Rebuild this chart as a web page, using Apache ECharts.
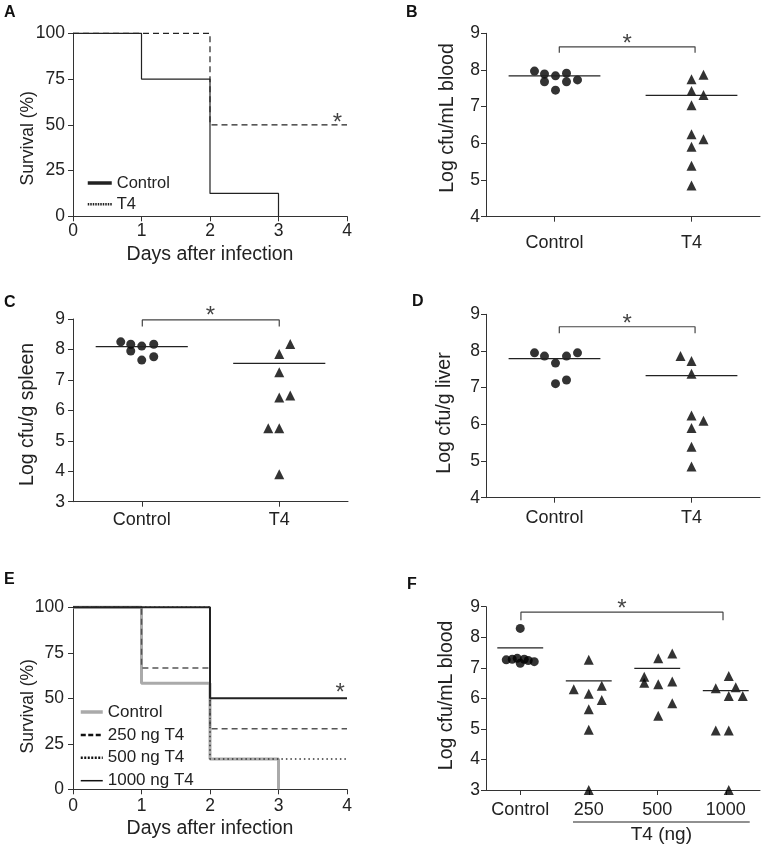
<!DOCTYPE html>
<html><head><meta charset="utf-8">
<script src="https://cdn.jsdelivr.net/npm/echarts@6/dist/echarts.min.js"></script>
<style>html,body{margin:0;padding:0;background:#fff}#c{width:765px;height:852px}</style>
</head><body><div id="c"></div>
<script>
const FONT = '"Liberation Sans", Arial, Helvetica, sans-serif';
const TXT = '#222';
const AX = '#333';

// ---------- Panel A: survival ----------
const daysA = [0, 1, 2, 3, 4];
const survA_control = [100, 75, 12.5, 0, null];
const survA_T4 = [100, 100, 50, 50, 50];

// ---------- Panels B, C, D: two groups ----------
const groupsBCD = ['Control', 'T4'];
const B_control = [7.97, 7.89, 7.68, 7.84, 7.45, 7.91, 7.68, 7.73];
const B_T4 = [7.75, 7.87, 7.43, 7.32, 7.04, 6.25, 6.11, 5.91, 5.39, 4.85];
const B_means = [7.84, 7.31];
const C_control = [8.25, 8.17, 7.95, 8.11, 8.17, 7.65, 7.76];
const C_T4 = [8.18, 7.85, 7.25, 6.49, 6.42, 5.41, 5.41, 3.90];
const C_means = [8.09, 7.54];
const D_control = [7.95, 7.86, 7.67, 7.86, 7.95, 7.11, 7.21];
const D_T4 = [7.86, 7.73, 7.38, 6.24, 6.10, 5.90, 5.39, 4.85];
const D_means = [7.79, 7.33];

// ---------- Panel E: survival by dose ----------
const daysE = [0, 1, 2, 3, 4];
const survE_control = [100, 58.3, 16.7, 0, null];
const survE_250 = [100, 66.7, 33.3, 33.3, 33.3];
const survE_500 = [100, 100, 16.7, 16.7, 16.7];
const survE_1000 = [100, 100, 50, 50, 50];

// ---------- Panel F: blood by dose ----------
const groupsF = ['Control', '250', '500', '1000'];
const F_control = [8.29, 7.26, 7.28, 7.31, 7.15, 7.28, 7.24, 7.20];
const F_250 = [7.26, 6.30, 6.15, 6.41, 5.95, 5.64, 4.97, 3.00];
const F_500 = [7.31, 7.47, 6.71, 6.51, 6.46, 6.55, 5.84, 5.43];
const F_1000 = [6.73, 6.33, 6.36, 6.08, 6.08, 4.95, 4.95, 3.00];
const F_means = [7.65, 6.57, 6.98, 6.25];

// ---------- layout-only: horizontal scatter offsets in px (beeswarm look) ----------
const jB_c = [-20, -10, -10, 1, 1, 12, 12, 23];
const jB_t = [0, 12, 0, 12, 0, 0, 12, 0, 0, 0];
const jC_c = [-21, -11, -11, 0, 12, 0, 12];
const jC_t = [11, 0, 0, 11, 0, -11, 0, 0];
const jD_c = [-20, -10, 1, 12, 23, 1, 12];
const jD_t = [-11, 0, 0, 0, 12, 0, 0, 0];
const jF_c = [0, -14, -8, -3, 0, 4, 8, 14];
const jF_250 = [0, -15, 0, 13, 13, 0, 0, 0];
const jF_500 = [1, 15, -13, -13, 1, 15, 15, 1];
const jF_1000 = [3, -10, 10, 3, 17, -10, 3, 3];

const grids = [
  {left: 73, top: 33.3, width: 274, height: 183},     // A
  {left: 486, top: 33.3, width: 274, height: 183.4},  // B
  {left: 73, top: 319, width: 275, height: 182.7},    // C
  {left: 486, top: 314.3, width: 274, height: 183.4}, // D
  {left: 73, top: 607.3, width: 274, height: 182},    // E
  {left: 486, top: 606.7, width: 274, height: 183.3}  // F
];

const lineSt = {color: AX, width: 1};
function axisBase(extra) {
  return Object.assign({
    axisLine: {show: true, lineStyle: lineSt},
    axisTick: {show: true, inside: false, length: 5, lineStyle: lineSt},
    splitLine: {show: false},
    nameMoveOverlap: false,
    nameTextStyle: {color: TXT, fontFamily: FONT, fontSize: 19.5},
  }, extra);
}
function lbl(margin, size) {
  return {color: TXT, fontFamily: FONT, fontSize: size || 17.5, margin: margin, interval: 0};
}
function yname(size, padding) {
  return {color: TXT, fontFamily: FONT, fontSize: size, padding: padding};
}

const catTick = {show: true, alignWithLabel: true, length: 5, lineStyle: lineSt};
const xAxes = [
  // 0: A
  axisBase({gridIndex: 0, type: 'value', min: 0, max: 4, interval: 1, axisLabel: lbl(6),
    name: 'Days after infection', nameLocation: 'middle', nameGap: 28}),
  // 1: B category, 2: B hidden value
  axisBase({gridIndex: 1, type: 'category', data: groupsBCD, boundaryGap: true,
    axisTick: catTick, axisLabel: lbl(17, 18)}),
  {gridIndex: 1, type: 'value', min: 0, max: 2, show: false},
  // 3: C category, 4: C hidden
  axisBase({gridIndex: 2, type: 'category', data: groupsBCD, boundaryGap: true,
    axisTick: catTick, axisLabel: lbl(9, 18)}),
  {gridIndex: 2, type: 'value', min: 0, max: 2, show: false},
  // 5: D category, 6: D hidden
  axisBase({gridIndex: 3, type: 'category', data: groupsBCD, boundaryGap: true,
    axisTick: catTick, axisLabel: lbl(11, 18)}),
  {gridIndex: 3, type: 'value', min: 0, max: 2, show: false},
  // 7: E
  axisBase({gridIndex: 4, type: 'value', min: 0, max: 4, interval: 1, axisLabel: lbl(8),
    name: 'Days after infection', nameLocation: 'middle', nameGap: 29}),
  // 8: F category, 9: F hidden
  axisBase({gridIndex: 5, type: 'category', data: groupsF, boundaryGap: true,
    axisTick: catTick, axisLabel: lbl(11, 18)}),
  {gridIndex: 5, type: 'value', min: 0, max: 4, show: false}
];

const yAxes = [
  axisBase({gridIndex: 0, type: 'value', min: 0, max: 100, interval: 25, axisLabel: lbl(8),
    name: 'Survival (%)', nameLocation: 'middle', nameGap: 36, nameTextStyle: yname(17.5, [0, 27, 0, 0])}),
  axisBase({gridIndex: 1, type: 'value', min: 4, max: 9, interval: 1, axisLabel: lbl(6),
    name: 'Log cfu/mL blood', nameLocation: 'middle', nameGap: 28, nameTextStyle: yname(19.5, [0, 0, 0, 14])}),
  axisBase({gridIndex: 2, type: 'value', min: 3, max: 9, interval: 1, axisLabel: lbl(8),
    name: 'Log cfu/g spleen', nameLocation: 'middle', nameGap: 35, nameTextStyle: yname(19.5, [0, 8, 0, 0])}),
  axisBase({gridIndex: 3, type: 'value', min: 4, max: 9, interval: 1, axisLabel: lbl(6),
    name: 'Log cfu/g liver', nameLocation: 'middle', nameGap: 31, nameTextStyle: yname(19.5, [0, 14, 0, 0])}),
  axisBase({gridIndex: 4, type: 'value', min: 0, max: 100, interval: 25, axisLabel: lbl(9),
    name: 'Survival (%)', nameLocation: 'middle', nameGap: 36, nameTextStyle: yname(17.5, [0, 16, 0, 0])}),
  axisBase({gridIndex: 5, type: 'value', min: 3, max: 9, interval: 1, axisLabel: lbl(6),
    name: 'Log cfu/mL blood', nameLocation: 'middle', nameGap: 29, nameTextStyle: yname(19.5, [0, 0, 0, 6])})
];

const series = [];
function km(name, xi, yi, days, surv, style, z) {
  const data = [];
  days.forEach((d, i) => { if (surv[i] !== null) data.push([d, surv[i]]); });
  series.push({name: name, type: 'line', xAxisIndex: xi, yAxisIndex: yi, step: 'end', data: data,
    symbol: 'none', clip: false, lineStyle: style, itemStyle: {color: style.color}, z: z || 2,
    emphasis: {disabled: true}});
}
function dots(name, xi, yi, cat, values, jit, symbol, size) {
  series.push({name: name, type: 'scatter', xAxisIndex: xi, yAxisIndex: yi, clip: false,
    symbol: symbol, symbolSize: size, itemStyle: {color: '#000'}, z: 3,
    data: values.map((v, i) => ({value: [cat, v], symbolOffset: [jit[i], 0]}))});
}
function means(name, xi, yi, ms) {
  ms.forEach((m, i) => {
    series.push({name: name, type: 'line', xAxisIndex: xi, yAxisIndex: yi, symbol: 'none', z: 4,
      data: [[i + 0.5 - 0.335, m], [i + 0.5 + 0.335, m]], lineStyle: {color: '#222', width: 1.2}});
  });
}
function bracket(name, xi, yi, x1, x2, yTop, yLow) {
  series.push({name: name, type: 'line', xAxisIndex: xi, yAxisIndex: yi, symbol: 'none', clip: false,
    data: [[x1, yLow], [x1, yTop], [x2, yTop], [x2, yLow]], lineStyle: {color: '#444', width: 1.2}});
}
function star(name, xi, yi, x, y) {
  series.push({name: name, type: 'scatter', xAxisIndex: xi, yAxisIndex: yi, clip: false,
    symbolSize: 1, itemStyle: {color: 'rgba(0,0,0,0)'}, data: [[x, y]],
    label: {show: true, position: 'inside', formatter: '*', fontSize: 24, fontFamily: FONT, color: '#111'}});
}

// A
km('Control', 0, 0, daysA, survA_control, {color: '#222', width: 1.2, type: 'solid'});
km('T4', 0, 0, daysA, survA_T4, {color: '#222', width: 1.2, type: [6, 4]});
star('A*', 0, 0, 3.86, 51);

// B
dots('B Control', 1, 1, 'Control', B_control, jB_c, 'circle', 9);
dots('B T4', 1, 1, 'T4', B_T4, jB_t, 'triangle', 10);
means('B mean', 2, 1, B_means);
bracket('B br', 2, 1, 0.535, 1.526, 8.63, 8.47);
star('B*', 2, 1, 1.03, 8.7);

// C
dots('C Control', 3, 2, 'Control', C_control, jC_c, 'circle', 9);
dots('C T4', 3, 2, 'T4', C_T4, jC_t, 'triangle', 10);
means('C mean', 4, 2, C_means);
bracket('C br', 4, 2, 0.504, 1.50, 8.97, 8.75);
star('C*', 4, 2, 1.0, 9.07);

// D
dots('D Control', 5, 3, 'Control', D_control, jD_c, 'circle', 9);
dots('D T4', 5, 3, 'T4', D_T4, jD_t, 'triangle', 10);
means('D mean', 6, 3, D_means);
bracket('D br', 6, 3, 0.535, 1.526, 8.66, 8.48);
star('D*', 6, 3, 1.03, 8.72);

// E
km('Control', 7, 4, daysE, survE_control, {color: '#aaaaaa', width: 3, type: 'solid'}, 1);
km('250 ng T4', 7, 4, daysE, survE_250, {color: '#555', width: 1.5, type: [6, 4]});
km('500 ng T4', 7, 4, daysE, survE_500, {color: '#333', width: 1.5, type: [1.5, 3]});
km('1000 ng T4', 7, 4, daysE, survE_1000, {color: '#222', width: 2, type: 'solid'}, 3);
star('E*', 7, 4, 3.9, 52.5);

// F
dots('F Control', 8, 5, 'Control', F_control, jF_c, 'circle', 9);
dots('F 250', 8, 5, '250', F_250, jF_250, 'triangle', 10);
dots('F 500', 8, 5, '500', F_500, jF_500, 'triangle', 10);
dots('F 1000', 8, 5, '1000', F_1000, jF_1000, 'triangle', 10);
means('F mean', 9, 5, F_means);
bracket('F br', 9, 5, 0.51, 3.46, 8.82, 8.56);
star('F*', 9, 5, 1.985, 8.92);

const legTxt = {color: TXT, fontFamily: FONT, fontSize: 16.5};
const noSym = {color: 'rgba(0,0,0,0)', borderColor: 'rgba(0,0,0,0)', borderWidth: 0};
const option = {
  animation: false,
  backgroundColor: '#fff',
  grid: grids,
  xAxis: xAxes,
  yAxis: yAxes,
  series: series,
  legend: [
    {orient: 'vertical', left: 81, top: 169.5, itemWidth: 24, itemHeight: 14, itemGap: 4.2,
      textStyle: legTxt, selectedMode: false,
      data: [
        {name: 'Control', lineStyle: {color: '#222', width: 3.5, type: 'solid'}, itemStyle: noSym},
        {name: 'T4', lineStyle: {color: '#222', width: 2.5, type: [1.5, 1]}, itemStyle: noSym}
      ]},
    {orient: 'vertical', left: 74, top: 698.5, itemWidth: 22, itemHeight: 14, itemGap: 5.9,
      textStyle: Object.assign({}, legTxt, {fontSize: 17}), selectedMode: false,
      data: [
        {name: 'Control', lineStyle: {color: '#aaaaaa', width: 3.5, type: 'solid'}, itemStyle: noSym},
        {name: '250 ng T4', lineStyle: {color: '#111', width: 2.5, type: [5, 2.5]}, itemStyle: noSym},
        {name: '500 ng T4', lineStyle: {color: '#111', width: 2.5, type: [2, 1.5]}, itemStyle: noSym},
        {name: '1000 ng T4', lineStyle: {color: '#111', width: 1.5, type: 'solid'}, itemStyle: noSym}
      ]}
  ]
};

const chart = echarts.init(document.getElementById('c'), null, {renderer: 'canvas'});
chart.setOption(option);

// panel letters and F group label
const letterFont = 'bold 16px ' + FONT;
const letters = [['A', 4, 5], ['B', 406, 5], ['C', 4, 295], ['D', 412, 294], ['E', 4, 572], ['F', 407, 577]];
const fx0 = chart.convertToPixel({xAxisIndex: 9}, 1.27);
const fx1 = chart.convertToPixel({xAxisIndex: 9}, 3.85);
const fy = chart.convertToPixel({yAxisIndex: 5}, 3);
const graphics = letters.map(l => ({type: 'text', left: l[1], top: l[2], z: 10,
  style: {text: l[0], font: letterFont, fill: '#111'}}));
graphics.push({type: 'line', z: 10, shape: {x1: fx0, y1: fy + 32, x2: fx1, y2: fy + 32},
  style: {stroke: '#222', lineWidth: 1.2}});
graphics.push({type: 'text', z: 10, x: (fx0 + fx1) / 2, y: fy + 45,
  style: {text: 'T4 (ng)', font: '19px ' + FONT, fill: TXT, textAlign: 'center', textVerticalAlign: 'middle'}});
chart.setOption({graphic: graphics});
</script>
</body></html>
